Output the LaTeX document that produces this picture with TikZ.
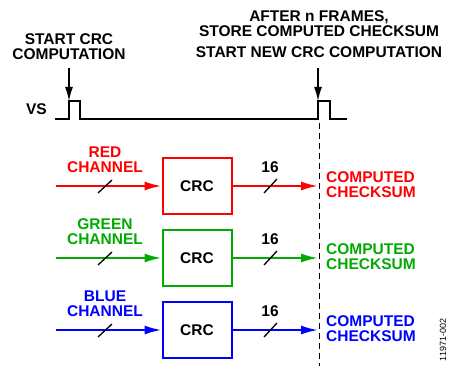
\documentclass[tikz,border=0pt]{standalone}
\usepackage{fontspec}
\setmainfont{Liberation Sans}
\usetikzlibrary{arrows.meta}
\definecolor{chred}{RGB}{255,0,0}
\definecolor{chgreen}{RGB}{0,170,0}
\definecolor{chblue}{RGB}{0,0,255}
\tikzset{
  lbl/.style={font=\fontsize{15.5}{15}\selectfont\bfseries, align=center, inner sep=0pt},
  sumlbl/.style={lbl, align=left, anchor=west},
  crcbox/.style={draw, line width=2pt, minimum width=69pt, minimum height=56pt, inner sep=0pt,
    font=\fontsize{15.5}{15}\selectfont\bfseries, text=black},
  sig/.style={line width=2pt, -{Latex[length=17pt,width=9pt]}},
  trig/.style={line width=1.4pt, -{Latex[length=14pt,width=8pt]}},
  bus/.style={black, line width=1.3pt},
}
\begin{document}
\begin{tikzpicture}[x=1pt,y=-1pt]
        \useasboundingbox (0,0) rectangle (449,366);
        %Titres
        \node [lbl, anchor=south] (startlbl) at (69,60) {START CRC\\COMPUTATION};
        \node [lbl, anchor=south] (afterlbl) at (319,37) {AFTER n FRAMES,\\STORE COMPUTED CHECKSUM};
        \node [lbl, anchor=south] (newlbl) at (319,58) {START NEW CRC COMPUTATION};
        \node [lbl, anchor=base east] (vs) at (47,115) {VS};
        %Signal VS
        \coordinate (pulse1) at (69,101); \coordinate (pulse2) at (318,101);
        \draw [line width=1.8pt] (55,119) -- (69,119) -- (pulse1) -- (80,101) -- (80,119) -- (318,119) -- (pulse2) -- (330,101) -- (330,119) -- (347,119);
        \draw [trig] ([yshift=-8pt]startlbl.south) -- (pulse1);
        \draw [trig] (69,68 -| pulse2) -- (pulse2);
        \draw [line width=1pt, dash pattern=on 6pt off 4pt] (319,123) -- (319,366);
        %Canal rouge
        \node [lbl, anchor=south, text=chred] (redlbl) at (105,173) {RED\\CHANNEL};
        \node [crcbox, draw=chred] (redcrc) at (197,186) {CRC};
        \coordinate (redin) at (56,186); \coordinate (redout) at (318,186);
        \draw [sig, chred] (redin) -- (redcrc.west);
        \draw [sig, chred] (redcrc.east) -- (redout);
        \draw [bus] (98,193) -- (112,180); \draw [bus] (264,193) -- (277,179);
        \node [lbl, anchor=south] (red16) at (270,173) {16};
        \node [sumlbl, text=chred] (redsum) at (326,184.5) {COMPUTED\\CHECKSUM};
        %Canal vert
        \node [lbl, anchor=south, text=chgreen] (greenlbl) at (105,245) {GREEN\\CHANNEL};
        \node [crcbox, draw=chgreen] (greencrc) at (197,258) {CRC};
        \coordinate (greenin) at (56,258); \coordinate (greenout) at (318,258);
        \draw [sig, chgreen] (greenin) -- (greencrc.west);
        \draw [sig, chgreen] (greencrc.east) -- (greenout);
        \draw [bus] (98,265) -- (112,252); \draw [bus] (264,265) -- (277,251);
        \node [lbl, anchor=south] (green16) at (270,245) {16};
        \node [sumlbl, text=chgreen] (greensum) at (326,256.5) {COMPUTED\\CHECKSUM};
        %Canal bleu
        \node [lbl, anchor=south, text=chblue] (bluelbl) at (105,317) {BLUE\\CHANNEL};
        \node [crcbox, draw=chblue] (bluecrc) at (197,330) {CRC};
        \coordinate (bluein) at (56,330); \coordinate (blueout) at (318,330);
        \draw [sig, chblue] (bluein) -- (bluecrc.west);
        \draw [sig, chblue] (bluecrc.east) -- (blueout);
        \draw [bus] (98,337) -- (112,324); \draw [bus] (264,337) -- (277,323);
        \node [lbl, anchor=south] (blue16) at (270,317) {16};
        \node [sumlbl, text=chblue] (bluesum) at (326,328.5) {COMPUTED\\CHECKSUM};
        %Reference
        \node [font=\fontsize{9}{9}\selectfont, rotate=90, inner sep=0pt] (figref) at (443,340) {11971-002};
\end{tikzpicture}
\end{document}
